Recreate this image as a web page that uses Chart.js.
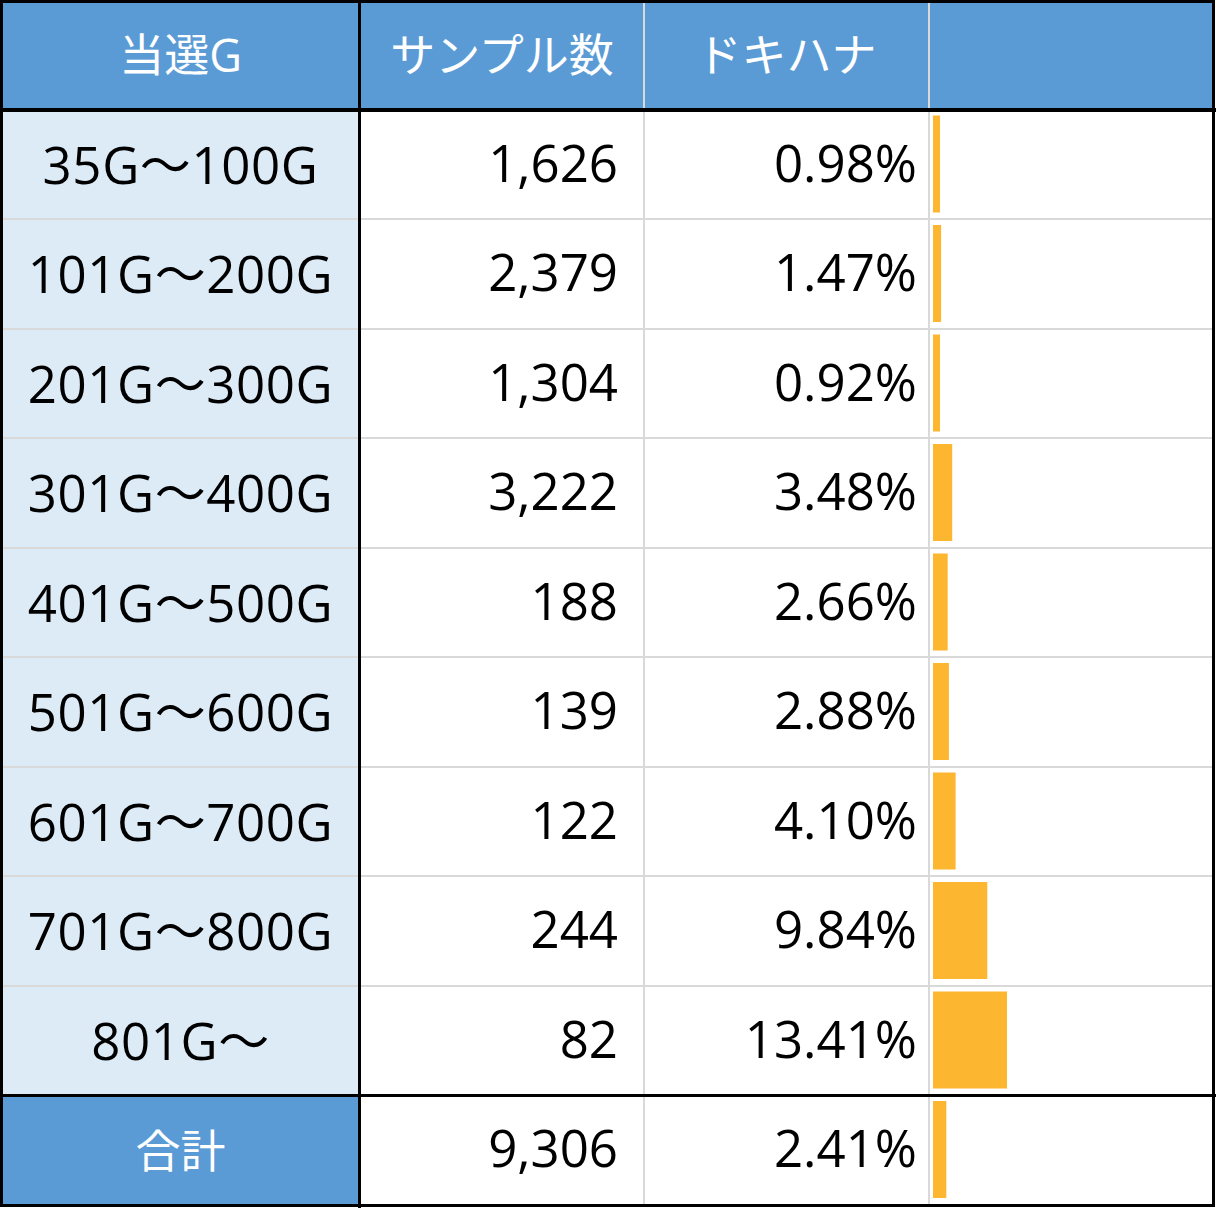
<!DOCTYPE html>
<html><head><meta charset="utf-8">
<script src="https://cdn.jsdelivr.net/npm/chart.js@4"></script>
<style>
html,body{margin:0;padding:0;background:#fff;}
#wrap{position:relative;width:1216px;height:1208px;overflow:hidden;background:#fff;font-family:"Open Sans","Noto Sans CJK JP",sans-serif;}
.abs{position:absolute;}
.cell{position:absolute;display:flex;align-items:center;white-space:nowrap;font-size:51px;color:#000;}
.hd{font-size:45px;}
.c{justify-content:center;}
.r{justify-content:flex-end;}
.w{color:#fff;}
.sp{letter-spacing:0.6px;}
canvas{position:absolute;left:0;top:0;z-index:5;pointer-events:none;}
</style></head>
<body>
<div id="wrap"><canvas id="c" width="1216" height="1208"></canvas></div>
<script>
const headers = ["当選G", "サンプル数", "ドキハナ", ""];
const categories = ["35G～100G","101G～200G","201G～300G","301G～400G","401G～500G","501G～600G","601G～700G","701G～800G","801G～","合計"];
const samples = [1626, 2379, 1304, 3222, 188, 139, 122, 244, 82, 9306];
const rates = [0.98, 1.47, 0.92, 3.48, 2.66, 2.88, 4.10, 9.84, 13.41, 2.41];

const wrap = document.getElementById('wrap');
function box(x,y,w,h,bg,z){const d=document.createElement('div');d.className='abs';d.style.cssText=`left:${x}px;top:${y}px;width:${w}px;height:${h}px;background:${bg};z-index:${z||1}`;wrap.appendChild(d);return d;}
function txt(x,y,w,h,s,cls){const d=document.createElement('div');d.className='cell '+cls;d.style.left=x+'px';d.style.top=y+'px';d.style.width=w+'px';d.style.height=h+'px';d.style.zIndex=3;d.textContent=s;wrap.appendChild(d);return d;}

const BLUE='#5B9BD5', LBLUE='#DDEBF7', GRAY='#D9D9D9';
const rowH=109.5, firstC=164.5;
// backgrounds
box(3,3,1209,105,BLUE);
box(3,112,355,982,LBLUE);
box(3,1097,355,107,BLUE);
// gray horizontal lines
for(let k=0;k<8;k++){box(3,firstC+rowH*k+54.75-1,1209,2.2,GRAY,2);}
// gray vertical lines
box(643,3,2.2,1201,GRAY,2);
box(928,3,2.2,1201,GRAY,2);
// black lines
box(0,108,1216,4,'#000',4);
box(0,1094,1216,3.2,'#000',4);
box(358,0,3,1208,'#000',4);
const ob=document.createElement('div');ob.className='abs';ob.style.cssText='left:0;top:0;width:1215px;height:1207px;border:3px solid #000;box-sizing:border-box;z-index:6';wrap.appendChild(ob);

// header text
txt(3,0,355,105,headers[0],'c w hd');
txt(361,0,282,105,headers[1],'c w hd');
txt(645,0,283,105,headers[2],'c w hd');
// rows
categories.forEach((cat,i)=>{
  const cy=firstC+rowH*i, y=cy-57, h=108;
  const last = i===categories.length-1;
  txt(3,last?y+1:y,355,h,cat,last?'c w hd':'c sp');
  txt(361,y,257,h,samples[i].toLocaleString('en-US'),'r');
  txt(645,y,272,h,rates[i].toFixed(2)+'%','r');
});

new Chart(document.getElementById('c'),{
  type:'bar',
  data:{labels:categories,datasets:[{data:rates,backgroundColor:'#FDB62F',borderWidth:0,barPercentage:0.886,categoryPercentage:1,minBarLength:7}]},
  options:{indexAxis:'y',responsive:false,animation:false,
    layout:{padding:{left:933,right:7,top:109.25,bottom:3.75}},
    scales:{x:{display:false,min:0,max:50},y:{display:false}},
    plugins:{legend:{display:false},tooltip:{enabled:false}}}
});
</script>
</body></html>
